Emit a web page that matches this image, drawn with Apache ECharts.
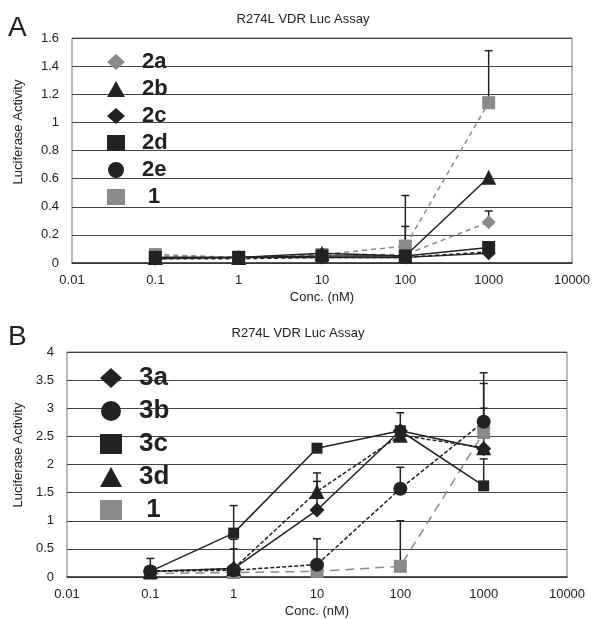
<!DOCTYPE html>
<html>
<head>
<meta charset="utf-8">
<script src="https://cdn.jsdelivr.net/npm/echarts@6/dist/echarts.min.js"></script>
<style>
  html, body { margin: 0; padding: 0; background: #fff; }
  #chart { width: 595px; height: 619px; }
</style>
</head>
<body>
<div id="chart"></div>
<script>
// concentrations (nM)
const conc = [0.1, 1, 10, 100, 1000];
const xTicks = [0.01, 0.1, 1, 10, 100, 1000, 10000];

// panel A values
const a2a = [0.05, 0.04, 0.06, 0.06, 0.29];
const a2b = [0.04, 0.04, 0.07, 0.05, 0.61];
const a2c = [0.03, 0.04, 0.04, 0.04, 0.07];
const a2d = [0.04, 0.04, 0.05, 0.05, 0.11];
const a2e = [0.03, 0.03, 0.04, 0.04, 0.08];
const a1 = [0.06, 0.04, 0.06, 0.12, 1.14];
// panel A error bar tops
const a2aErr = [null, null, null, null, 0.37];
const a2bErr = [null, null, null, 0.26, null];
const a1Err = [null, null, null, 0.48, 1.51];

// panel B values
const b3a = [0.1, 0.15, 1.19, 2.6, 2.28];
const b3b = [0.1, 0.12, 0.22, 1.57, 2.76];
const b3c = [0.1, 0.78, 2.29, 2.6, 1.62];
const b3d = [0.1, 0.15, 1.52, 2.52, 2.3];
const b1 = [0.06, 0.08, 0.1, 0.19, 2.57];
// panel B error bar tops
const b3aErr = [null, 0.67, 1.7, 2.92, 3.0];
const b3bErr = [null, null, 0.68, 1.95, 3.63];
const b3cErr = [0.33, 1.27, null, null, 2.1];
const b3dErr = [null, 0.5, 1.85, null, null];
const b1Err = [null, null, null, 1.0, 3.44];

const BLACK = '#222';
const GRAY = '#8a8a8a';
const FONT = 'Liberation Sans';

function pts(vals) {
  return conc.map((c, i) => [c, vals[i]]);
}
function errPts(vals, tops) {
  return conc.map((c, i) => tops[i] != null ? [c, vals[i], tops[i]] : null).filter(Boolean);
}

function errRender(params, api) {
  const x = api.value(0);
  const p0 = api.coord([x, api.value(1)]);
  const p1 = api.coord([x, api.value(2)]);
  const w = 4;
  const st = { stroke: BLACK, lineWidth: 1.5 };
  return {
    type: 'group',
    children: [
      { type: 'line', shape: { x1: p0[0], y1: p0[1], x2: p1[0], y2: p1[1] }, style: st },
      { type: 'line', shape: { x1: p1[0] - w, y1: p1[1], x2: p1[0] + w, y2: p1[1] }, style: st }
    ]
  };
}

function lineSeries(name, vals, symbol, color, dash, idx, size) {
  return {
    name: name,
    type: 'line',
    xAxisIndex: idx,
    yAxisIndex: idx,
    data: pts(vals),
    symbol: symbol,
    symbolSize: size,
    z: 3,
    itemStyle: { color: color },
    lineStyle: { color: color, width: 1.5, type: dash },
    animation: false
  };
}
function errSeries(vals, tops, idx) {
  return {
    type: 'custom',
    xAxisIndex: idx,
    yAxisIndex: idx,
    data: errPts(vals, tops),
    encode: { x: 0, y: [1, 2] },
    renderItem: errRender,
    z: 2,
    silent: true,
    animation: false
  };
}

function xAxis(idx) {
  return {
    type: 'log',
    gridIndex: idx,
    min: 0.01,
    max: 10000,
    logBase: 10,
    name: 'Conc. (nM)',
    nameLocation: 'middle',
    nameGap: 28,
    nameTextStyle: { fontFamily: FONT, fontSize: 13, color: BLACK },
    axisLine: { lineStyle: { color: '#333', width: 1.5 } },
    axisTick: { show: false },
    splitLine: { show: false },
    minorTick: { show: false },
    axisLabel: {
      fontFamily: FONT, fontSize: 13, color: BLACK, margin: 11,
      formatter: v => String(+Number(v).toPrecision(3))
    }
  };
}
function yAxis(idx, max, interval) {
  return {
    type: 'value',
    gridIndex: idx,
    min: 0,
    max: max,
    interval: interval,
    axisLine: { show: false },
    axisTick: { show: false },
    splitLine: { lineStyle: { color: '#444', width: 1 } },
    axisLabel: { fontFamily: FONT, fontSize: 13, color: BLACK, margin: 13 }
  };
}

const chart = echarts.init(document.getElementById('chart'));
chart.setOption({
  animation: false,
  backgroundColor: '#fff',
  title: [
    { text: 'R274L VDR Luc Assay', left: 298, top: 8, textAlign: 'center',
      textStyle: { fontFamily: FONT, fontSize: 13, fontWeight: 'normal', color: BLACK } },
    { text: 'R274L VDR Luc Assay', left: 293, top: 322, textAlign: 'center',
      textStyle: { fontFamily: FONT, fontSize: 13, fontWeight: 'normal', color: BLACK } }
  ],
  graphic: [
    { type: 'text', left: 8, top: 14, style: { text: 'A', font: '28px "Liberation Sans"', fill: BLACK } },
    { type: 'text', left: 8, top: 323, style: { text: 'B', font: '28px "Liberation Sans"', fill: BLACK } },
    { type: 'text', x: 18, y: 132, rotation: Math.PI / 2,
      style: { text: 'Luciferase Activity', font: '13px "Liberation Sans"', fill: BLACK, align: 'center', verticalAlign: 'middle' } },
    { type: 'text', x: 18, y: 455, rotation: Math.PI / 2,
      style: { text: 'Luciferase Activity', font: '13px "Liberation Sans"', fill: BLACK, align: 'center', verticalAlign: 'middle' } }
  ],
  legend: [
    {
      orient: 'vertical', left: 102, top: 46, itemWidth: 18, itemHeight: 16, itemGap: 5,
      selectedMode: false,
      formatter: n => n === '1' ? ' 1' : n,
      textStyle: { fontFamily: FONT, fontSize: 22, fontWeight: 'bold', color: BLACK, lineHeight: 22, padding: [0, 0, 0, 12] },
      data: [
        { name: '2a', icon: 'diamond' },
        { name: '2b', icon: 'triangle' },
        { name: '2c', icon: 'diamond' },
        { name: '2d', icon: 'rect' },
        { name: '2e', icon: 'circle' },
        { name: '1', icon: 'rect' }
      ]
    },
    {
      orient: 'vertical', left: 95, top: 359, itemWidth: 22, itemHeight: 20, itemGap: 5,
      selectedMode: false,
      formatter: n => n === '1' ? ' 1' : n,
      textStyle: { fontFamily: FONT, fontSize: 26, fontWeight: 'bold', color: BLACK, lineHeight: 28, padding: [0, 0, 0, 12] },
      data: [
        { name: '3a', icon: 'diamond' },
        { name: '3b', icon: 'circle' },
        { name: '3c', icon: 'rect' },
        { name: '3d', icon: 'triangle' },
        { name: '1', icon: 'rect' }
      ]
    }
  ],
  grid: [
    { left: 72, top: 38, width: 500, height: 225, show: true, borderColor: '#777', borderWidth: 1 },
    { left: 67, top: 352, width: 500, height: 226, show: true, borderColor: '#777', borderWidth: 1 }
  ],
  xAxis: [xAxis(0), xAxis(1)],
  yAxis: [yAxis(0, 1.6, 0.2), yAxis(1, 4, 0.5)],
  series: [
    errSeries(a2a, a2aErr, 0),
    errSeries(a2b, a2bErr, 0),
    errSeries(a1, a1Err, 0),
    lineSeries('1', a1, 'rect', GRAY, [5, 4], 0, 13),
    lineSeries('2a', a2a, 'diamond', GRAY, [5, 4], 0, 14),
    lineSeries('2e', a2e, 'circle', BLACK, [4, 3], 0, 11),
    lineSeries('2d', a2d, 'rect', BLACK, 'solid', 0, 13),
    lineSeries('2c', a2c, 'diamond', BLACK, 'solid', 0, 14),
    lineSeries('2b', a2b, 'triangle', BLACK, 'solid', 0, 15),

    errSeries(b3a, b3aErr, 1),
    errSeries(b3b, b3bErr, 1),
    errSeries(b3c, b3cErr, 1),
    errSeries(b3d, b3dErr, 1),
    errSeries(b1, b1Err, 1),
    lineSeries('1', b1, 'rect', GRAY, [9, 6], 1, 13),
    lineSeries('3b', b3b, 'circle', BLACK, [4, 2], 1, 14),
    lineSeries('3d', b3d, 'triangle', BLACK, [4, 2], 1, 15),
    lineSeries('3a', b3a, 'diamond', BLACK, 'solid', 1, 15),
    lineSeries('3c', b3c, 'rect', BLACK, 'solid', 1, 11)
  ]
});
</script>
</body>
</html>
